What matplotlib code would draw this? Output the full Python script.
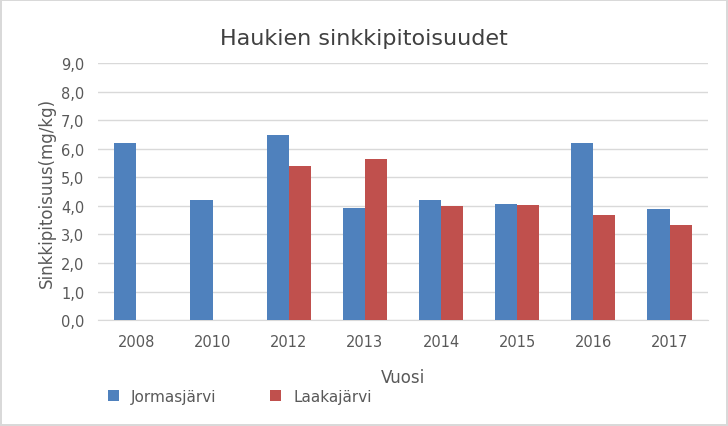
import matplotlib.pyplot as plt
import numpy as np

years = ["2008", "2010", "2012", "2013", "2014", "2015", "2016", "2017"]
jormas = [6.2, 4.2, 6.48, 3.92, 4.2, 4.06, 6.2, 3.89]
laaka = [np.nan, np.nan, 5.39, 5.64, 3.99, 4.03, 3.68, 3.33]

fig = plt.figure(figsize=(7.28, 4.27), dpi=100)
fig.patch.set_edgecolor("#d9d9d9")
fig.patch.set_linewidth(1.5)
ax = fig.add_axes([0.135, 0.248, 0.837, 0.602])
x = np.arange(len(years))
w = 0.29
ax.bar(x - w/2, jormas, w, color="#4f81bd", label="Jormasjärvi", zorder=3)
ax.bar(x + w/2, laaka, w, color="#c0504d", label="Laakajärvi", zorder=3)
ax.set_xlim(-0.5, len(years) - 0.5)
ax.set_ylim(0, 9)
ax.set_yticks(np.arange(0, 9.1, 1))
ax.set_yticklabels([f"{v:.1f}".replace(".", ",") for v in np.arange(0, 9.1, 1)])
ax.set_xticks(x)
ax.set_xticklabels(years)
ax.grid(axis="y", color="#d9d9d9", lw=1, zorder=0)
for s in ["top", "right", "left"]:
    ax.spines[s].set_visible(False)
ax.spines["bottom"].set_color("#d9d9d9")
ax.tick_params(length=0, labelsize=10.5, colors="#595959", pad=10)
ax.set_xlabel("Vuosi", fontsize=12, color="#595959", labelpad=14)
ax.set_ylabel("Sinkkipitoisuus(mg/kg)", fontsize=12, color="#595959")
fig.text(0.5, 0.895, "Haukien sinkkipitoisuudet", ha="center", fontsize=16, color="#404040")
fig.legend(loc="center left", bbox_to_anchor=(0.13, 0.07), ncol=2, frameon=False,
           fontsize=11, labelcolor="#595959", handlelength=0.7, handleheight=0.7,
           columnspacing=3.5)
fig.savefig("out.png", dpi=100, edgecolor=fig.get_edgecolor())
